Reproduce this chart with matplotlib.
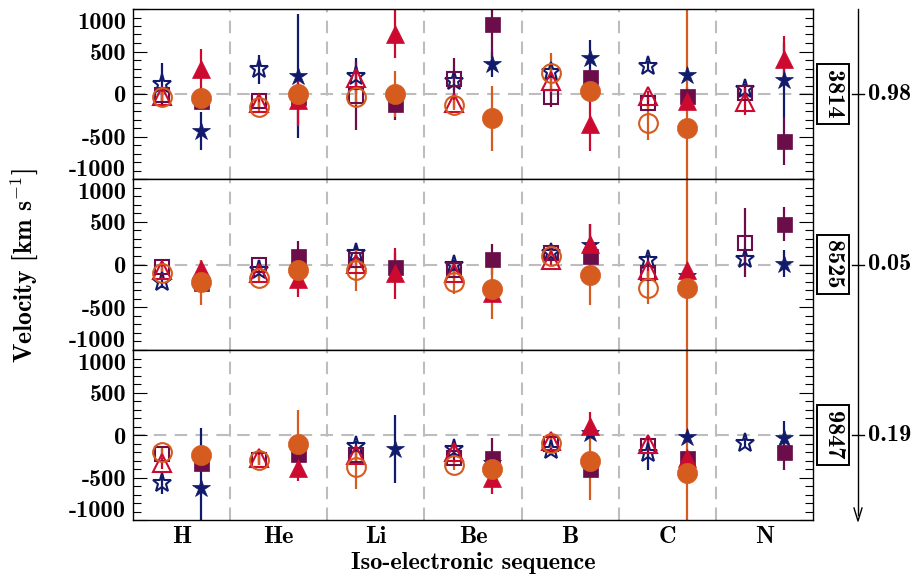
import matplotlib
matplotlib.use("Agg")
import matplotlib.pyplot as plt
import numpy as np
from matplotlib.ticker import MultipleLocator
from matplotlib.transforms import ScaledTranslation

nan = np.nan

sequences = ["H", "He", "Li", "Be", "B", "C", "N"]
stars = ["3814", "8525", "9847"]
phases = ["0.98", "0.05", "0.19"]

# ---- star 3814 (values / errors in km/s, order H He Li Be B C N) ----
v3814_star_open = [120, 290, 210, 150, 260, 330, 60]
e3814_star_open = [250, 170, 210, 100, 100, 60, 60]
v3814_star_fill = [-435, 210, nan, 350, 425, 225, 165]
e3814_star_fill = [220, 730, nan, 150, 210, 60, 440]
v3814_sq_open = [-10, -80, -25, 175, -30, -100, 15]
e3814_sq_open = [60, 60, 400, 250, 120, 60, 50]
v3814_sq_fill = [-80, -40, -120, 820, 200, -20, -555]
e3814_sq_fill = [80, 100, 180, 400, 100, 100, 280]
v3814_tri_open = [-20, -100, 190, -100, 150, -25, -90]
e3814_tri_open = [80, 60, 100, 60, 60, 60, 160]
v3814_tri_fill = [290, -70, 705, nan, -355, -80, 410]
e3814_tri_fill = [240, 310, 280, nan, 320, 60, 270]
v3814_circ_open = [-40, -150, -35, -130, 250, -340, nan]
e3814_circ_open = [60, 60, 100, 60, 230, 200, nan]
v3814_circ_fill = [-45, 0, 0, -285, 35, -400, nan]
e3814_circ_fill = [60, 60, 270, 385, 100, 5000, nan]

# ---- star 8525 ----
v8525_star_open = [-210, -70, 130, -10, 130, 50, 70]
e8525_star_open = [60, 60, 80, 60, 60, 60, 60]
v8525_star_fill = [nan, nan, nan, nan, 230, -130, 10]
e8525_star_fill = [nan, nan, nan, nan, 240, 60, 160]
v8525_sq_open = [-35, -10, 50, -70, 140, -95, 255]
e8525_sq_open = [60, 60, 60, 60, 60, 60, 400]
v8525_sq_fill = [-220, 105, -35, 60, 105, nan, 470]
e8525_sq_fill = [60, 170, 175, 185, 60, nan, 200]
v8525_tri_open = [-70, -105, 10, -105, 50, -70, nan]
e8525_tri_open = [60, 60, 60, 60, 60, 60, nan]
v8525_tri_fill = [-50, -175, -105, -330, 245, -70, nan]
e8525_tri_fill = [100, 200, 295, 100, 225, 60, nan]
v8525_circ_open = [-95, -160, -70, -210, 105, -270, nan]
e8525_circ_open = [60, 60, 245, 135, 60, 190, nan]
v8525_circ_fill = [-210, -70, nan, -285, -120, -270, nan]
e8525_circ_fill = [260, 100, nan, 350, 350, 5000, nan]

# ---- star 9847 ----
v9847_star_open = [-560, nan, -125, -170, -180, -210, -90]
e9847_star_open = [130, nan, 60, 60, 60, 200, 60]
v9847_star_fill = [-620, nan, -170, -330, 20, -20, -30]
e9847_star_fill = [700, nan, 400, 60, 60, 60, 190]
v9847_sq_open = [-220, -290, -240, -265, -100, -125, nan]
e9847_sq_open = [60, 60, 60, 60, 60, 60, nan]
v9847_sq_fill = [-335, -220, nan, -265, -395, -275, -205]
e9847_sq_fill = [60, 60, nan, 230, 60, 60, 210]
v9847_tri_open = [-335, -275, -240, -195, -70, -110, nan]
e9847_tri_open = [60, 60, 60, 60, 60, 60, nan]
v9847_tri_fill = [nan, -385, nan, -500, 110, -270, nan]
e9847_tri_fill = [nan, 160, nan, 190, 155, 60, nan]
v9847_circ_open = [-205, -290, -380, -350, -90, nan, nan]
e9847_circ_open = [60, 60, 250, 60, 60, nan, nan]
v9847_circ_fill = [-240, -100, nan, -395, -300, -445, nan]
e9847_circ_fill = [100, 390, nan, 200, 470, 5000, nan]

panels = {
    "3814": {
        "star": ((v3814_star_open, e3814_star_open), (v3814_star_fill, e3814_star_fill)),
        "sq": ((v3814_sq_open, e3814_sq_open), (v3814_sq_fill, e3814_sq_fill)),
        "tri": ((v3814_tri_open, e3814_tri_open), (v3814_tri_fill, e3814_tri_fill)),
        "circ": ((v3814_circ_open, e3814_circ_open), (v3814_circ_fill, e3814_circ_fill)),
    },
    "8525": {
        "star": ((v8525_star_open, e8525_star_open), (v8525_star_fill, e8525_star_fill)),
        "sq": ((v8525_sq_open, e8525_sq_open), (v8525_sq_fill, e8525_sq_fill)),
        "tri": ((v8525_tri_open, e8525_tri_open), (v8525_tri_fill, e8525_tri_fill)),
        "circ": ((v8525_circ_open, e8525_circ_open), (v8525_circ_fill, e8525_circ_fill)),
    },
    "9847": {
        "star": ((v9847_star_open, e9847_star_open), (v9847_star_fill, e9847_star_fill)),
        "sq": ((v9847_sq_open, e9847_sq_open), (v9847_sq_fill, e9847_sq_fill)),
        "tri": ((v9847_tri_open, e9847_tri_open), (v9847_tri_fill, e9847_tri_fill)),
        "circ": ((v9847_circ_open, e9847_circ_open), (v9847_circ_fill, e9847_circ_fill)),
    },
}

NAVY = "#111a6b"
PURPLE = "#6a0d48"
RED = "#cc0a30"
ORANGE = "#d65b1e"
GRID = "#bdbdbd"
FS = 17.5

# marker, colour, size open, size filled (draw order = list order)
styles = [
    ("star", "*", NAVY, 14, 13.5),
    ("sq", "s", PURPLE, 10, 10.8),
    ("tri", "^", RED, 12.5, 13),
    ("circ", "o", ORANGE, 13.5, 14.5),
]

plt.rcParams["font.family"] = ["cmb10", "DejaVu Serif"]
plt.rcParams["mathtext.fontset"] = "cm"
plt.rcParams["axes.unicode_minus"] = False

fig = plt.figure(figsize=(9.23, 5.81), dpi=100)
W, H = 923.0, 581.0
x_left, x_right = 133, 813
panel_px = [(9, 179), (179, 350), (350, 520)]

x = np.arange(len(sequences))
axes = []
for i, name in enumerate(stars):
    top, bot = panel_px[i]
    ax = fig.add_axes([x_left / W, 1 - bot / H, (x_right - x_left) / W, (bot - top) / H])
    axes.append(ax)
    data = panels[name]

    # error bars first, markers on top
    for key, marker, color, ms_open, ms_fill in styles:
        (vo, eo), (vf, ef) = data[key]
        for vals, errs, dx in ((vo, eo, -0.2), (vf, ef, 0.2)):
            ax.errorbar(x + dx, vals, yerr=errs, fmt="none", ecolor=color,
                        elinewidth=1.6, capsize=0, zorder=2)
    for key, marker, color, ms_open, ms_fill in styles:
        (vo, eo), (vf, ef) = data[key]
        ax.plot(x - 0.2, vo, linestyle="none", marker=marker, ms=ms_open,
                mfc="none", mec=color, mew=1.5, zorder=3)
        ax.plot(x + 0.2, vf, linestyle="none", marker=marker, ms=ms_fill,
                mfc=color, mec=color, mew=0.5, zorder=3)

    ax.axhline(0, color=GRID, lw=1.5, ls=(0, (6, 4)), zorder=1)
    for sep in np.arange(0.5, len(sequences) - 0.5, 1.0):
        ax.axvline(sep, color=GRID, lw=1.5, ls=(0, (6, 4)), zorder=1)

    ax.set_xlim(-0.5, len(sequences) - 0.5)
    ax.set_ylim(-1000, 1000)
    ax.set_yticks([-1000, -500, 0, 500, 1000])
    ax.yaxis.set_minor_locator(MultipleLocator(100))
    ax.tick_params(axis="y", which="both", direction="in", left=True, right=True,
                   labelsize=FS, width=0.8, pad=5)
    ax.tick_params(axis="y", which="major", length=10)
    ax.tick_params(axis="y", which="minor", length=6)
    ax.set_xticks(x)
    if i < 2:
        ax.tick_params(axis="x", length=0, labelbottom=False)
    else:
        ax.set_xticklabels(sequences)
        ax.tick_params(axis="x", length=0, labelsize=FS, pad=4)
        ax.set_xlabel("Iso-electronic sequence", fontsize=FS, labelpad=3)

    # pull edge labels inward so they do not collide between panels
    labels = ax.get_yticklabels()
    labels[0].set_transform(labels[0].get_transform()
                            + ScaledTranslation(0, 8 / 72, fig.dpi_scale_trans))
    labels[-1].set_transform(labels[-1].get_transform()
                             + ScaledTranslation(0, -8 / 72, fig.dpi_scale_trans))
    for sp in ax.spines.values():
        sp.set_linewidth(1.0)

    # boxed star id
    zero_y = 1 - (top + bot) / 2 / H
    fig.text(833 / W, zero_y, name, rotation=-90, fontsize=FS, ha="center", va="center",
             bbox=dict(boxstyle="square,pad=0.22", fc="white", ec="black", lw=1.4))
    # phase tick on arrow axis
    fig.add_artist(plt.Line2D([852 / W, 864 / W], [zero_y, zero_y], color="black", lw=1.0))
    fig.text(868 / W, zero_y, phases[i], fontsize=FS, ha="left", va="center")

fig.text(24 / W, 1 - 265 / H, r"Velocity [km s$^{-1}$]", rotation=90, fontsize=FS + 1,
         ha="center", va="center")

# phase arrow on the right
fig.add_artist(plt.Line2D([858 / W, 858 / W], [1 - 9 / H, 1 - 515 / H], color="black", lw=1.0))
fig.add_artist(plt.Line2D([854 / W, 858 / W, 862 / W],
                          [1 - 508 / H, 1 - 521 / H, 1 - 508 / H], color="black", lw=1.0))

fig.savefig("out.png", dpi=100)
